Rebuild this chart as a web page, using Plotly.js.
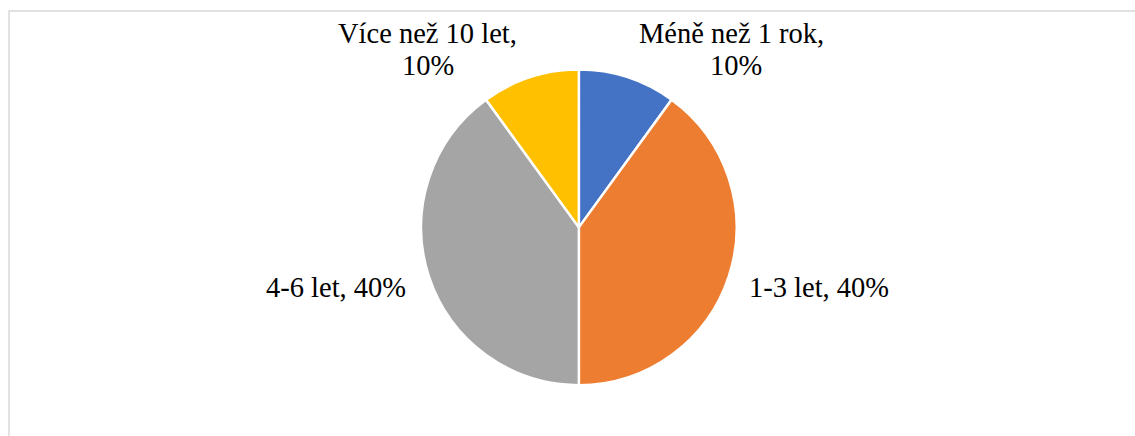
<!DOCTYPE html>
<html>
<head>
<meta charset="utf-8">
<script src="https://cdn.plot.ly/plotly-3.0.1.min.js"></script>
<style>html,body{margin:0;padding:0;background:#fff;}#chart{width:1135px;height:436px;}</style>
</head>
<body>
<div id="chart"></div>
<script>
const categories = ["Méně než 1 rok", "1-3 let", "4-6 let", "Více než 10 let"];
const values = [10, 40, 40, 10];
const colors = ["#4472C4", "#ED7D31", "#A5A5A5", "#FFC000"];

const W = 1135, H = 436;
const FONT = "Liberation Serif";
const FSIZE = 28.5;

// label layout (pixel anchors of each text line; not data)
const labelLayout = [
  {lines: 2, pos: [[731, 33.4], [736, 65.4]]},
  {lines: 1, pos: [[819, 287.4]]},
  {lines: 1, pos: [[336, 287.4]]},
  {lines: 2, pos: [[427.5, 33.4], [428, 65.4]]}
];

const total = values.reduce((a, b) => a + b, 0);
const annotations = [];
categories.forEach((c, i) => {
  const pct = Math.round(values[i] / total * 100) + "%";
  const L = labelLayout[i];
  const lines = L.lines === 2 ? [c + ",", pct] : [c + ", " + pct];
  lines.forEach((t, j) => {
    annotations.push({
      text: t, showarrow: false, xref: "paper", yref: "paper",
      x: L.pos[j][0] / W, y: 1 - L.pos[j][1] / H,
      xanchor: "center", yanchor: "middle",
      font: {family: FONT, size: FSIZE, color: "#000000"}
    });
  });
});

const trace = {
  type: "pie",
  labels: categories,
  values: values,
  textinfo: "none",
  sort: false,
  direction: "clockwise",
  rotation: 0,
  marker: {colors: colors, line: {color: "#ffffff", width: 2.5}},
  domain: {x: [0.371, 0.649], y: [0.115, 0.842]},
  automargin: false,
  hoverinfo: "none",
  showlegend: false
};

const layout = {
  width: W,
  height: H,
  margin: {l: 0, r: 0, t: 0, b: 0},
  paper_bgcolor: "#ffffff",
  font: {family: FONT},
  showlegend: false,
  annotations: annotations,
  shapes: [{
    type: "rect", xref: "paper", yref: "paper",
    x0: 9 / W, x1: 1.02, y0: -0.02, y1: 1 - 11 / H,
    line: {color: "#d9d9d9", width: 1.5}
  }]
};

Plotly.newPlot("chart", [trace], layout, {displayModeBar: false, staticPlot: true});
</script>
</body>
</html>
